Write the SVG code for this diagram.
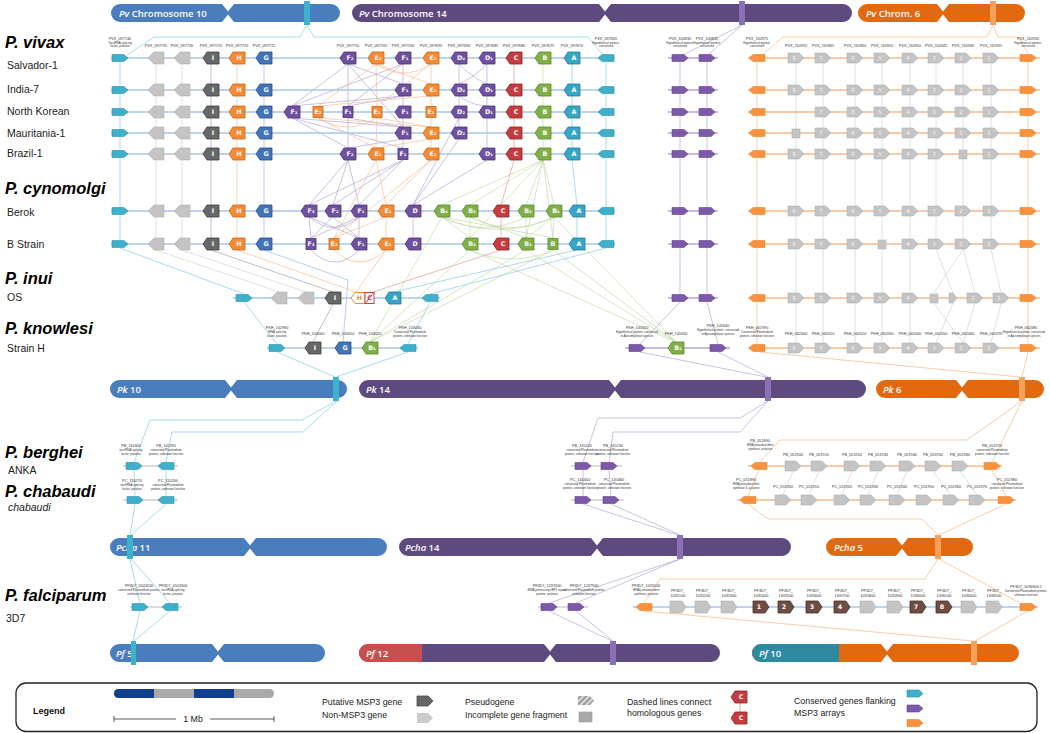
<svg xmlns="http://www.w3.org/2000/svg" width="1050" height="733" viewBox="0 0 1050 733">
<style>
.tl{fill:#3fb0cc;stroke:#2a92ad;stroke-width:.6}
.gy{fill:#c4c4c4;stroke:#b4b4b4;stroke-width:.6}
.ps{fill:#686868;stroke:#3e3e3e;stroke-width:.8}
.or{fill:#f48b34;stroke:#c8661b;stroke-width:.8}
.bl{fill:#4474b8;stroke:#2a4f8a;stroke-width:.8}
.pu{fill:#6f519f;stroke:#4b3277;stroke-width:.8}
.rd{fill:#c43c3d;stroke:#8e2425;stroke-width:.8}
.gr{fill:#82b048;stroke:#5a8a28;stroke-width:.8}
.ab{fill:#38a5c6;stroke:#217c9a;stroke-width:.8}
.fp{fill:#7d5aa9;stroke:#5f418b;stroke-width:.6}
.fo{fill:#f8923e;stroke:#ee8226;stroke-width:.6}
.br{fill:#6f4d42;stroke:#4b3129;stroke-width:.8}
.lt{font-family:"DejaVu Sans",sans-serif;font-size:6.3px;font-weight:bold;fill:#fff;text-anchor:middle}
.nm{font-family:"DejaVu Sans",sans-serif;font-size:5.5px;fill:#fff;text-anchor:middle;opacity:.8}
.id{font-family:"Liberation Sans",Arial,sans-serif;font-size:3.8px;fill:#333;text-anchor:middle}
.ds{font-family:"Liberation Sans",Arial,sans-serif;font-size:3px;fill:#333;text-anchor:middle}
.sp{font-family:"Liberation Sans",Arial,sans-serif;font-size:16.5px;font-weight:bold;font-style:italic;fill:#000}
.st{font-family:"Liberation Sans",Arial,sans-serif;font-size:10.5px;fill:#222}
.ch{font-family:"Open Sans","Liberation Sans",sans-serif;font-size:9.5px;font-weight:600;fill:#fff}
.lg{font-family:"Liberation Sans",Arial,sans-serif;font-size:8.8px;fill:#222}
.bb{stroke:#a8c4e6;stroke-width:1.3;fill:none}
.bp{stroke:#b4a5d4;stroke-width:1.3;fill:none}
.bo{stroke:#f9b98a;stroke-width:1.3;fill:none}
.bg{stroke:#cfcfcf;stroke-width:1.3;fill:none}
.ct{stroke:#93d3e3;stroke-width:.8;fill:none}
.cp{stroke:#a898cc;stroke-width:.6;fill:none}
.co{stroke:#f8c092;stroke-width:.8;fill:none}
.cg{stroke:#d8d8d8;stroke-width:.8;fill:none}
.cd{stroke:#a5a5a5;stroke-width:.7;fill:none}
.cb{stroke:#9cb7de;stroke-width:.7;fill:none}
.cr{stroke:#e59a9a;stroke-width:.7;fill:none}
.cn{stroke:#bcd59b;stroke-width:.6;fill:none}
.ce{stroke:#f7b684;stroke-width:.6;fill:none}
</style>
<defs>
<path id="mL" d="M-8,0 L-4,-6 L8,-6 L8,6 L-4,6 Z"/>
<path id="mR" d="M8,0 L4,-6 L-8,-6 L-8,6 L4,6 Z"/>
<path id="fR" d="M-8,-3.5 L4,-3.5 L8,0 L4,3.5 L-8,3.5 Z"/>
<path id="fL" d="M8,-3.5 L-4,-3.5 L-8,0 L-4,3.5 L8,3.5 Z"/>
<path id="gR" d="M-8,-5 L3,-5 L8,0 L3,5 L-8,5 Z"/>
<path id="gS" d="M-4,-5 L0,-5 L4,0 L0,5 L-4,5 Z"/>
<path id="gL" d="M8,-6 L-2,-6 L-8,0 L-2,6 L8,6 Z"/>
<rect id="sq" x="-5" y="-5.5" width="10" height="11"/>
<pattern id="hatch" patternUnits="userSpaceOnUse" width="4" height="4" patternTransform="rotate(45)">
<rect width="4" height="4" fill="#9a9a9a"/><rect width="1.6" height="4" fill="#e8e8e8"/>
</pattern>
</defs>
<rect width="1050" height="733" fill="#fff"/>

<g id="chromosomes">
<g id="pv-chr10"><path d="M120,4 H222 L228,11.5 L234,4 H331 A9,9 0 0 1 331,22 H234 L228,14.5 L222,22 H120 A9,9 0 0 1 120,4 Z" fill="#4a7dbd"/><rect x="304" y="1" width="6" height="24" fill="#3db3cb"/><text class="ch" x="119" y="16.5"><tspan font-style="italic">Pv</tspan> Chromosome 10</text></g>
<g id="pv-chr14"><path d="M361,4 H599 L605,11.5 L611,4 H843 A9,9 0 0 1 843,22 H611 L605,14.5 L599,22 H361 A9,9 0 0 1 361,4 Z" fill="#5f4a7f"/><rect x="739" y="1" width="6" height="24" fill="#8c70b6"/><text class="ch" x="359" y="16.5"><tspan font-style="italic">Pv</tspan> Chromosome 14</text></g>
<g id="pv-chr6"><path d="M867,4 H937 L943,11.5 L949,4 H1016 A9,9 0 0 1 1016,22 H949 L943,14.5 L937,22 H867 A9,9 0 0 1 867,4 Z" fill="#e2690f"/><rect x="990" y="1" width="6" height="24" fill="#f6a25c"/><text class="ch" x="866" y="16.5"><tspan font-style="italic">Pv</tspan> Chrom. 6</text></g>

<g id="pk-chr10"><path d="M119,380 H225 L231,387.5 L237,380 H338 A9,9 0 0 1 338,398 H237 L231,390.5 L225,398 H119 A9,9 0 0 1 119,380 Z" fill="#4a7dbd"/><rect x="333" y="377" width="6" height="24" fill="#3db3cb"/><text class="ch" x="117" y="392.5"><tspan font-style="italic">Pk</tspan> 10</text></g>
<g id="pk-chr14"><path d="M368,380 H609 L615,387.5 L621,380 H857 A9,9 0 0 1 857,398 H621 L615,390.5 L609,398 H368 A9,9 0 0 1 368,380 Z" fill="#5f4a7f"/><rect x="765" y="377" width="6" height="24" fill="#8c70b6"/><text class="ch" x="366" y="392.5"><tspan font-style="italic">Pk</tspan> 14</text></g>
<g id="pk-chr6"><path d="M885,380 H956 L962,387.5 L968,380 H1035 A9,9 0 0 1 1035,398 H968 L962,390.5 L956,398 H885 A9,9 0 0 1 885,380 Z" fill="#e2690f"/><rect x="1019" y="377" width="6" height="24" fill="#f6a25c"/><text class="ch" x="883" y="392.5"><tspan font-style="italic">Pk</tspan> 6</text></g>

<g id="pcha-chr11"><path d="M119,538 H244 L250,545.5 L256,538 H378 A9,9 0 0 1 378,556 H256 L250,548.5 L244,556 H119 A9,9 0 0 1 119,538 Z" fill="#4a7dbd"/><text class="ch" x="116" y="550.5"><tspan font-style="italic">Pcha</tspan> 11</text><rect x="127" y="535" width="6" height="24" fill="#3db3cb"/></g>
<g id="pcha-chr14"><path d="M408,538 H591 L597,545.5 L603,538 H782 A9,9 0 0 1 782,556 H603 L597,548.5 L591,556 H408 A9,9 0 0 1 408,538 Z" fill="#5f4a7f"/><rect x="677" y="535" width="6" height="24" fill="#8c70b6"/><text class="ch" x="405" y="550.5"><tspan font-style="italic">Pcha</tspan> 14</text></g>
<g id="pcha-chr5"><path d="M835,538 H896 L902,545.5 L908,538 H964 A9,9 0 0 1 964,556 H908 L902,548.5 L896,556 H835 A9,9 0 0 1 835,538 Z" fill="#e2690f"/><rect x="935" y="535" width="6" height="24" fill="#f6a25c"/><text class="ch" x="834" y="550.5"><tspan font-style="italic">Pcha</tspan> 5</text></g>

<g id="pf-chr5"><path d="M119,644 H212 L218,651.5 L224,644 H316 A9,9 0 0 1 316,662 H224 L218,654.5 L212,662 H119 A9,9 0 0 1 119,644 Z" fill="#4a7dbd"/><text class="ch" x="116" y="656.5" font-size="8.5"><tspan font-style="italic">Pf</tspan> 5</text><rect x="131" y="641" width="5" height="24" fill="#3db3cb"/></g>
<g id="pf-chr12"><path d="M368,644 H544 L550,651.5 L556,644 H711 A9,9 0 0 1 711,662 H556 L550,654.5 L544,662 H368 A9,9 0 0 1 368,644 Z" fill="#5f4a7f"/><path d="M368,644 H422 V662 H368 A9,9 0 0 1 368,644 Z" fill="#c7504f"/><rect x="610" y="641" width="6" height="24" fill="#8c70b6"/><text class="ch" x="366" y="656.5"><tspan font-style="italic">Pf</tspan> 12</text></g>
<g id="pf-chr10"><path d="M761,644 H881 L887,651.5 L893,644 H1010 A9,9 0 0 1 1010,662 H893 L887,654.5 L881,662 H761 A9,9 0 0 1 761,644 Z" fill="#e2690f"/><path d="M761,644 H839 V662 H761 A9,9 0 0 1 761,644 Z" fill="#2e8aa0"/><rect x="971" y="641" width="6" height="24" fill="#f6a25c"/><text class="ch" x="759" y="656.5"><tspan font-style="italic">Pf</tspan> 10</text></g>
</g>

<g id="connectors">
<path class="ct" d="M307,25 L300,37 H154 L127,55 M307,25 L314,37 H588 L603,55"/>
<path class="cp" d="M742,25 L683,55 M742,25 L708,55"/>
<path class="co" d="M993,25 L987,37 H783 L762,55 M993,25 L998,37 H1018 L1029,55"/>
<path class="ct" d="M120,62 V240 M606,62 V240 M572,64 V148 M572,160 L577,205 M577,217 V238 M577,250 L393,292 M606,248 L430,294 M120,248 L244,294 M244,302 L277,344 M430,302 L408,344 M277,352 L335,377 M408,352 L336,377"/>
<path class="ct" d="M336,401 L302,420 H150 L134,462 M337,401 L303,432 H172 L166,462 M134,470 L135,496 M166,470 V496 M135,504 L130,535 M166,504 L131,535 M130,559 L140,603 M131,559 L170,603 M140,611 L133,641 M170,611 L134,641"/>
<path class="cg" d="M156,64 V238 M182,64 V238 M156,250 L279,292 M182,250 L306,292"/>
<path class="cd" d="M211,64 V238 M211,250 L333,292 M333,304 L313,342"/>
<path class="ce" d="M237,64 V238 M237,250 L356,292"/>
<path class="cb" d="M264,64 V238 M264,250 L348,280 L343,342"/>
<path class="cp" d="M348,64 L292,106 M348,64 L348,106 M348,64 L403,84 M348,64 L403,127 M403,64 L348,106 M403,64 L292,106 M403,64 L403,84 M403,96 L403,106 M403,96 L348,106 M403,96 L292,106 M292,118 L403,127 M292,118 L348,148 M348,118 L348,148 M348,118 L403,127 M403,118 L403,127 M403,139 L403,148 M403,139 L348,148 M292,118 L403,148 M348,160 L309,205 M348,160 L333,205 M348,160 L359,205 M403,160 L309,205 M403,160 L333,205 M403,160 L359,205 M309,217 L311,238 M309,217 L359,238 M333,217 L311,238 M333,217 L359,238 M359,217 L311,238 M359,217 L359,238 M309,217 Q334,238 359,217 M311,250 Q335,274 359,250"/>
<path class="cp" d="M459,64 L459,84 M487,64 L487,84 M459,64 Q473,78 487,84 M487,64 Q473,78 459,84 M459,96 L459,106 M487,96 L487,106 M459,96 Q473,106 487,106 M459,118 L459,127 M487,118 L487,148 M459,139 L413,205 M487,160 L413,205 M459,118 L413,205 M413,217 L413,238"/>
<path class="ce" d="M376,64 L318,106 M376,64 L431,84 M376,64 L377,106 M431,64 L377,106 M431,64 L431,84 M431,96 L431,106 M431,96 L318,106 M318,118 L431,127 M377,118 L431,127 M431,118 L431,127 M318,118 L376,148 M377,118 L376,148 M431,139 L431,148 M431,139 L376,148 M376,160 L386,205 M431,160 L386,205 M376,160 L334,238 M431,160 L334,238 M386,217 L386,238 M386,217 L334,238 M376,64 Q404,82 431,64 M334,250 Q360,274 386,250 M318,118 Q348,136 377,118 M386,250 L356,292"/>
<path class="cr" d="M514,64 V148 M514,160 L501,205 M501,217 V238 M501,250 L370,293"/>
<path class="cn" d="M543,64 V148 M543,160 L442,205 M543,160 L470,205 M543,160 L526,205 M543,160 L554,205 M543,160 L470,238 M543,160 L526,238 M543,160 L553,238 M442,217 L470,238 M470,217 L470,238 M470,217 L526,238 M526,217 L526,238 M554,217 L553,238 M554,217 L526,238 M442,217 L553,238 M442,217 Q498,242 554,217 M470,217 Q512,238 554,217 M442,217 Q484,238 526,217 M470,250 Q512,268 553,250 M470,250 L370,342 M526,250 L370,342 M553,250 L370,342 M442,217 L370,342 M470,250 L676,342 M526,250 L676,342 M553,250 L676,342 M554,217 L676,342"/>
<path class="cp" d="M680,62 V294 M707,62 V294 M680,302 L640,344 M707,302 L718,344 M640,352 L766,377 M718,352 L768,377 M768,401 L740,418 H598 L583,462 M768,401 L740,432 H613 L609,462 M583,470 V496 M609,470 L611,496 M583,504 L678,535 M611,504 L680,535 M680,559 L549,603 M680,559 L576,603 M549,611 L612,641 M576,611 L613,641"/>
<path class="co" d="M757,62 V344 M1028,62 V344 M760,352 L1020,377 M1028,352 L1022,377 M1022,401 L967,440 H780 L760,462 M1022,401 L992,462 M759,470 L748,496 M992,470 L1006,496 M748,504 L768,519 H922 L938,535 M1006,504 L939,535 M938,559 L925,579 H660 L644,603 M939,559 L1020,603 M644,611 L973,641 M1028,611 L975,641"/>
<path class="cg" d="M796,63 V239 M823,63 V239 M855,63 V239 M882,63 V239 M910,63 V239 M936,63 V239 M963,63 V239 M991,63 V239 M796,249 V293 M823,249 V293 M855,249 V293 M882,249 V293 M910,249 V293 M936,249 L953,293 M963,249 L934,293 M963,249 L975,293 M991,249 L1001,293 M796,303 V343 M823,303 V343 M855,303 V343 M882,303 V343 M910,303 V343 M934,303 L963,343 M953,303 L936,343 M975,303 L963,343 M1001,303 L991,343"/>
<path class="cg" d="M793,471 L783,495 M819,471 L809,495 M852,471 L842,495 M878,471 L868,495 M907,471 L897,495 M933,471 L951,495 M960,471 L977,495"/>
</g>

<g id="species-labels">
<text class="sp" x="5" y="48">P. vivax</text>
<text class="st" x="7" y="69">Salvador-1</text>
<text class="st" x="7" y="93">India-7</text>
<text class="st" x="7" y="115">North Korean</text>
<text class="st" x="7" y="137">Mauritania-1</text>
<text class="st" x="7" y="157">Brazil-1</text>
<text class="sp" x="5" y="194">P. cynomolgi</text>
<text class="st" x="7" y="216">Berok</text>
<text class="st" x="7" y="248">B Strain</text>
<text class="sp" x="5" y="284">P. inui</text>
<text class="st" x="7" y="301">OS</text>
<text class="sp" x="5" y="334">P. knowlesi</text>
<text class="st" x="7" y="352">Strain H</text>
<text class="sp" x="5" y="458">P. berghei</text>
<text class="st" x="8" y="474" font-size="10">ANKA</text>
<text class="sp" x="5" y="497">P. chabaudi</text>
<text class="st" x="8" y="511" font-size="10" font-style="italic">chabaudi</text>
<text class="sp" x="5" y="601">P. falciparum</text>
<text class="st" x="6" y="622" font-size="10">3D7</text>
</g>

<g id="pv-gene-ids">
<text class="id" x="120" y="39.5">PVX_097740</text><text class="ds" x="120" y="43.5">Tas/tRNA-splicing</text><text class="ds" x="120" y="47">factor, putative</text>
<text class="id" x="156" y="47">PVX_097735</text><text class="id" x="182" y="47">PVX_097730</text><text class="id" x="211" y="47">PVX_097725</text><text class="id" x="237" y="47">PVX_097720</text><text class="id" x="264" y="47">PVX_097715</text>
<text class="id" x="348" y="47">PVX_097710</text><text class="id" x="376" y="47">PVX_097705</text><text class="id" x="403" y="47">PVX_097700</text><text class="id" x="431" y="47">PVX_097695</text><text class="id" x="459" y="47">PVX_097690</text><text class="id" x="487" y="47">PVX_097685</text><text class="id" x="514" y="47">PVX_097680</text><text class="id" x="543" y="47">PVX_097675</text><text class="id" x="572" y="47">PVX_097670</text>
<text class="id" x="606" y="39.5">PVX_097665</text><text class="ds" x="606" y="43.5">Hypothetical protein,</text><text class="ds" x="606" y="47">conserved</text>
<text class="id" x="680" y="39.5">PVX_100830</text><text class="ds" x="680" y="43.5">Hypothetical protein,</text><text class="ds" x="680" y="47">conserved</text>
<text class="id" x="707" y="39.5">PVX_100835</text><text class="ds" x="707" y="43.5">Hypothetical protein,</text><text class="ds" x="707" y="47">conserved</text>
<text class="id" x="757" y="39.5">PVX_110975</text><text class="ds" x="757" y="43.5">Hypothetical protein,</text><text class="ds" x="757" y="47">conserved</text>
<text class="id" x="796" y="47">PVX_110970</text><text class="id" x="823" y="47">PVX_110965</text><text class="id" x="855" y="47">PVX_110960</text><text class="id" x="882" y="47">PVX_110955</text><text class="id" x="910" y="47">PVX_110950</text><text class="id" x="936" y="47">PVX_110945</text><text class="id" x="963" y="47">PVX_110940</text><text class="id" x="991" y="47">PVX_110935</text>
<text class="id" x="1028" y="39.5">PVX_110930</text><text class="ds" x="1028" y="43.5">Hypothetical protein,</text><text class="ds" x="1028" y="47">conserved</text>
</g>

<g id="pv-salvador-1">
<path class="bb" d="M111,58 H615"/><path class="bp" d="M668,58 H718"/><path class="bo" d="M748,58 H1040"/>
<use href="#fR" x="120" y="58" class="tl"/><use href="#gL" x="156" y="58" class="gy"/><use href="#gL" x="182" y="58" class="gy"/>
<use href="#mL" x="211" y="58" class="ps"/><text class="lt" x="213" y="60.4">I</text>
<use href="#mL" x="237" y="58" class="or"/><text class="lt" x="239" y="60.4">H</text>
<use href="#mL" x="264" y="58" class="bl"/><text class="lt" x="266" y="60.4">G</text>
<use href="#mL" x="348" y="58" class="pu"/><text class="lt" x="350" y="60.4">F₂</text>
<use href="#mL" x="376" y="58" class="or"/><text class="lt" x="378" y="60.4">E₂</text>
<use href="#mL" x="403" y="58" class="pu"/><text class="lt" x="405" y="60.4">F₁</text>
<use href="#mL" x="431" y="58" class="or"/><text class="lt" x="433" y="60.4">E₁</text>
<use href="#mL" x="459" y="58" class="pu"/><text class="lt" x="461" y="60.4">D₂</text>
<use href="#mL" x="487" y="58" class="pu"/><text class="lt" x="489" y="60.4">D₁</text>
<use href="#mL" x="514" y="58" class="rd"/><text class="lt" x="516" y="60.4">C</text>
<use href="#mL" x="543" y="58" class="gr"/><text class="lt" x="545" y="60.4">B</text>
<use href="#mL" x="572" y="58" class="ab"/><text class="lt" x="574" y="60.4">A</text>
<use href="#fL" x="606" y="58" class="tl"/>
<use href="#fR" x="680" y="58" class="fp"/><use href="#fR" x="707" y="58" class="fp"/>
<use href="#fL" x="757" y="58" class="fo"/>
<use href="#gR" x="796" y="58" class="gy"/><text class="nm" x="794" y="60">8</text>
<use href="#gR" x="823" y="58" class="gy"/><text class="nm" x="821" y="60">7</text>
<use href="#gR" x="855" y="58" class="gy"/><text class="nm" x="853" y="60">6</text>
<use href="#gR" x="882" y="58" class="gy"/><text class="nm" x="880" y="60">5</text>
<use href="#gR" x="910" y="58" class="gy"/><text class="nm" x="908" y="60">4</text>
<use href="#gR" x="936" y="58" class="gy"/><text class="nm" x="934" y="60">3</text>
<use href="#gR" x="963" y="58" class="gy"/><text class="nm" x="961" y="60">2</text>
<use href="#gR" x="991" y="58" class="gy"/><text class="nm" x="989" y="60">1</text>
<use href="#fR" x="1028" y="58" class="fo"/>
</g>

<g id="pv-india-7">
<path class="bb" d="M111,90 H615"/><path class="bp" d="M668,90 H718"/><path class="bo" d="M748,90 H1040"/>
<use href="#fR" x="120" y="90" class="tl"/><use href="#gL" x="156" y="90" class="gy"/><use href="#gL" x="182" y="90" class="gy"/>
<use href="#mL" x="211" y="90" class="ps"/><text class="lt" x="213" y="92.4">I</text>
<use href="#mL" x="237" y="90" class="or"/><text class="lt" x="239" y="92.4">H</text>
<use href="#mL" x="264" y="90" class="bl"/><text class="lt" x="266" y="92.4">G</text>
<use href="#mL" x="403" y="90" class="pu"/><text class="lt" x="405" y="92.4">F₁</text>
<use href="#mL" x="431" y="90" class="or"/><text class="lt" x="433" y="92.4">E₁</text>
<use href="#mL" x="459" y="90" class="pu"/><text class="lt" x="461" y="92.4">D₂</text>
<use href="#mL" x="487" y="90" class="pu"/><text class="lt" x="489" y="92.4">D₁</text>
<use href="#mL" x="514" y="90" class="rd"/><text class="lt" x="516" y="92.4">C</text>
<use href="#mL" x="543" y="90" class="gr"/><text class="lt" x="545" y="92.4">B</text>
<use href="#mL" x="572" y="90" class="ab"/><text class="lt" x="574" y="92.4">A</text>
<use href="#fL" x="606" y="90" class="tl"/>
<use href="#fR" x="680" y="90" class="fp"/><use href="#fR" x="707" y="90" class="fp"/>
<use href="#fL" x="757" y="90" class="fo"/>
<use href="#gR" x="796" y="90" class="gy"/><text class="nm" x="794" y="92">8</text>
<use href="#gR" x="823" y="90" class="gy"/><text class="nm" x="821" y="92">7</text>
<use href="#gR" x="855" y="90" class="gy"/><text class="nm" x="853" y="92">6</text>
<use href="#gR" x="882" y="90" class="gy"/><text class="nm" x="880" y="92">5</text>
<use href="#gR" x="910" y="90" class="gy"/><text class="nm" x="908" y="92">4</text>
<use href="#gR" x="936" y="90" class="gy"/><text class="nm" x="934" y="92">3</text>
<use href="#gR" x="963" y="90" class="gy"/><text class="nm" x="961" y="92">2</text>
<use href="#gR" x="991" y="90" class="gy"/><text class="nm" x="989" y="92">1</text>
<use href="#fR" x="1028" y="90" class="fo"/>
</g>

<g id="pv-north-korean">
<path class="bb" d="M111,112 H615"/><path class="bp" d="M668,112 H718"/><path class="bo" d="M748,112 H1040"/>
<use href="#fR" x="120" y="112" class="tl"/><use href="#gL" x="156" y="112" class="gy"/><use href="#gL" x="182" y="112" class="gy"/>
<use href="#mL" x="211" y="112" class="ps"/><text class="lt" x="213" y="114.4">I</text>
<use href="#mL" x="237" y="112" class="or"/><text class="lt" x="239" y="114.4">H</text>
<use href="#mL" x="264" y="112" class="bl"/><text class="lt" x="266" y="114.4">G</text>
<use href="#mL" x="292" y="112" class="pu"/><text class="lt" x="294" y="114.4">F₂</text>
<use href="#sq" x="318" y="112" class="or"/><text class="lt" x="318" y="114.4">E₂</text>
<use href="#sq" x="348" y="112" class="pu"/><text class="lt" x="348" y="114.4">F₁</text>
<use href="#sq" x="377" y="112" class="or"/><text class="lt" x="377" y="114.4">E₁</text>
<use href="#mL" x="403" y="112" class="pu"/><text class="lt" x="405" y="114.4">F₁</text>
<use href="#sq" x="431" y="112" class="or"/><text class="lt" x="431" y="114.4">E₁</text>
<use href="#mL" x="459" y="112" class="pu"/><text class="lt" x="461" y="114.4">D₂</text>
<use href="#mL" x="487" y="112" class="pu"/><text class="lt" x="489" y="114.4">D₁</text>
<use href="#mL" x="514" y="112" class="rd"/><text class="lt" x="516" y="114.4">C</text>
<use href="#mL" x="543" y="112" class="gr"/><text class="lt" x="545" y="114.4">B</text>
<use href="#mL" x="572" y="112" class="ab"/><text class="lt" x="574" y="114.4">A</text>
<use href="#fL" x="606" y="112" class="tl"/>
<use href="#fR" x="680" y="112" class="fp"/><use href="#fR" x="707" y="112" class="fp"/>
<use href="#fL" x="757" y="112" class="fo"/>
<use href="#gR" x="823" y="112" class="gy"/><text class="nm" x="821" y="114">7</text>
<use href="#gR" x="855" y="112" class="gy"/><text class="nm" x="853" y="114">6</text>
<use href="#gR" x="882" y="112" class="gy"/><text class="nm" x="880" y="114">5</text>
<use href="#gR" x="910" y="112" class="gy"/><text class="nm" x="908" y="114">4</text>
<use href="#gR" x="936" y="112" class="gy"/><text class="nm" x="934" y="114">3</text>
<use href="#gR" x="963" y="112" class="gy"/><text class="nm" x="961" y="114">2</text>
<use href="#gR" x="991" y="112" class="gy"/><text class="nm" x="989" y="114">1</text>
<use href="#fR" x="1028" y="112" class="fo"/>
</g>

<g id="pv-mauritania-1">
<path class="bb" d="M111,133 H615"/><path class="bp" d="M668,133 H718"/><path class="bo" d="M748,133 H1040"/>
<use href="#fR" x="120" y="133" class="tl"/><use href="#gL" x="156" y="133" class="gy"/><use href="#gL" x="182" y="133" class="gy"/>
<use href="#mL" x="211" y="133" class="ps"/><text class="lt" x="213" y="135.4">I</text>
<use href="#mL" x="237" y="133" class="or"/><text class="lt" x="239" y="135.4">H</text>
<use href="#mL" x="264" y="133" class="bl"/><text class="lt" x="266" y="135.4">G</text>
<use href="#mL" x="403" y="133" class="pu"/><text class="lt" x="405" y="135.4">F₁</text>
<use href="#mL" x="431" y="133" class="or"/><text class="lt" x="433" y="135.4">E₁</text>
<use href="#mL" x="459" y="133" class="pu"/><text class="lt" x="461" y="135.4">D₂</text>
<use href="#mL" x="514" y="133" class="rd"/><text class="lt" x="516" y="135.4">C</text>
<use href="#mL" x="543" y="133" class="gr"/><text class="lt" x="545" y="135.4">B</text>
<use href="#mL" x="572" y="133" class="ab"/><text class="lt" x="574" y="135.4">A</text>
<use href="#fL" x="606" y="133" class="tl"/>
<use href="#fR" x="680" y="133" class="fp"/><use href="#fR" x="707" y="133" class="fp"/>
<use href="#fL" x="757" y="133" class="fo"/>
<rect x="792" y="129" width="8" height="9" class="gy"/>
<use href="#gR" x="823" y="133" class="gy"/><text class="nm" x="821" y="135">7</text>
<use href="#gR" x="855" y="133" class="gy"/><text class="nm" x="853" y="135">6</text>
<use href="#gR" x="882" y="133" class="gy"/><text class="nm" x="880" y="135">5</text>
<use href="#gR" x="910" y="133" class="gy"/><text class="nm" x="908" y="135">4</text>
<use href="#gR" x="936" y="133" class="gy"/><text class="nm" x="934" y="135">3</text>
<use href="#gR" x="963" y="133" class="gy"/><text class="nm" x="961" y="135">2</text>
<use href="#gR" x="991" y="133" class="gy"/><text class="nm" x="989" y="135">1</text>
<use href="#fR" x="1028" y="133" class="fo"/>
</g>

<g id="pv-brazil-1">
<path class="bb" d="M111,154 H615"/><path class="bp" d="M668,154 H718"/><path class="bo" d="M748,154 H1040"/>
<use href="#fR" x="120" y="154" class="tl"/><use href="#gL" x="156" y="154" class="gy"/><use href="#gL" x="182" y="154" class="gy"/>
<use href="#mL" x="211" y="154" class="ps"/><text class="lt" x="213" y="156.4">I</text>
<use href="#mL" x="237" y="154" class="or"/><text class="lt" x="239" y="156.4">H</text>
<use href="#mL" x="264" y="154" class="bl"/><text class="lt" x="266" y="156.4">G</text>
<use href="#mL" x="348" y="154" class="pu"/><text class="lt" x="350" y="156.4">F₂</text>
<use href="#mL" x="376" y="154" class="or"/><text class="lt" x="378" y="156.4">E₁</text>
<use href="#sq" x="403" y="154" class="pu"/><text class="lt" x="403" y="156.4">F₁</text>
<use href="#mL" x="431" y="154" class="or"/><text class="lt" x="433" y="156.4">E₁</text>
<use href="#mL" x="487" y="154" class="pu"/><text class="lt" x="489" y="156.4">D₁</text>
<use href="#mL" x="514" y="154" class="rd"/><text class="lt" x="516" y="156.4">C</text>
<use href="#mL" x="543" y="154" class="gr"/><text class="lt" x="545" y="156.4">B</text>
<use href="#mL" x="572" y="154" class="ab"/><text class="lt" x="574" y="156.4">A</text>
<use href="#fL" x="606" y="154" class="tl"/>
<use href="#fR" x="680" y="154" class="fp"/><use href="#fR" x="707" y="154" class="fp"/>
<use href="#fL" x="757" y="154" class="fo"/>
<use href="#gR" x="796" y="154" class="gy"/><text class="nm" x="794" y="156">8</text>
<use href="#gR" x="823" y="154" class="gy"/><text class="nm" x="821" y="156">7</text>
<use href="#gR" x="855" y="154" class="gy"/><text class="nm" x="853" y="156">6</text>
<use href="#gR" x="882" y="154" class="gy"/><text class="nm" x="880" y="156">5</text>
<use href="#gR" x="910" y="154" class="gy"/><text class="nm" x="908" y="156">4</text>
<use href="#gR" x="936" y="154" class="gy"/><text class="nm" x="934" y="156">3</text>
<rect x="959" y="150" width="8" height="9" class="gy"/>
<use href="#gR" x="991" y="154" class="gy"/><text class="nm" x="989" y="156">1</text>
<use href="#fR" x="1028" y="154" class="fo"/>
</g>

<g id="pc-berok">
<path class="bb" d="M111,211 H615"/><path class="bp" d="M668,211 H718"/><path class="bo" d="M748,211 H1040"/>
<use href="#fR" x="120" y="211" class="tl"/><use href="#gL" x="156" y="211" class="gy"/><use href="#gL" x="182" y="211" class="gy"/>
<use href="#mL" x="211" y="211" class="ps"/><text class="lt" x="213" y="213.4">I</text>
<use href="#mL" x="237" y="211" class="or"/><text class="lt" x="239" y="213.4">H</text>
<use href="#mL" x="264" y="211" class="bl"/><text class="lt" x="266" y="213.4">G</text>
<use href="#mL" x="309" y="211" class="pu"/><text class="lt" x="311" y="213.4">F₃</text>
<use href="#mL" x="333" y="211" class="pu"/><text class="lt" x="335" y="213.4">F₂</text>
<use href="#mL" x="359" y="211" class="pu"/><text class="lt" x="361" y="213.4">F₁</text>
<use href="#mL" x="386" y="211" class="or"/><text class="lt" x="388" y="213.4">E₁</text>
<use href="#mL" x="413" y="211" class="pu"/><text class="lt" x="415" y="213.4">D</text>
<use href="#mL" x="442" y="211" class="gr"/><text class="lt" x="444" y="213.4">B₄</text>
<use href="#mL" x="470" y="211" class="gr"/><text class="lt" x="472" y="213.4">B₃</text>
<use href="#mL" x="501" y="211" class="rd"/><text class="lt" x="503" y="213.4">C</text>
<use href="#mL" x="526" y="211" class="gr"/><text class="lt" x="528" y="213.4">B₂</text>
<use href="#mL" x="554" y="211" class="gr"/><text class="lt" x="556" y="213.4">B₁</text>
<use href="#mL" x="577" y="211" class="ab"/><text class="lt" x="579" y="213.4">A</text>
<use href="#fL" x="606" y="211" class="tl"/>
<use href="#fR" x="680" y="211" class="fp"/><use href="#fR" x="707" y="211" class="fp"/>
<use href="#fL" x="757" y="211" class="fo"/>
<use href="#gR" x="796" y="211" class="gy"/><text class="nm" x="794" y="213">8</text>
<use href="#gR" x="823" y="211" class="gy"/><text class="nm" x="821" y="213">7</text>
<use href="#gR" x="855" y="211" class="gy"/><text class="nm" x="853" y="213">6</text>
<use href="#gR" x="882" y="211" class="gy"/><text class="nm" x="880" y="213">5</text>
<use href="#gR" x="910" y="211" class="gy"/><text class="nm" x="908" y="213">4</text>
<use href="#gR" x="936" y="211" class="gy"/><text class="nm" x="934" y="213">3</text>
<use href="#gR" x="963" y="211" class="gy"/><text class="nm" x="961" y="213">2</text>
<use href="#gR" x="991" y="211" class="gy"/><text class="nm" x="989" y="213">1</text>
<use href="#fR" x="1028" y="211" class="fo"/>
</g>

<g id="pc-b-strain">
<path class="bb" d="M111,244 H615"/><path class="bp" d="M668,244 H718"/><path class="bo" d="M748,244 H1040"/>
<use href="#fR" x="120" y="244" class="tl"/><use href="#gL" x="156" y="244" class="gy"/><use href="#gL" x="182" y="244" class="gy"/>
<use href="#mL" x="211" y="244" class="ps"/><text class="lt" x="213" y="246.4">I</text>
<use href="#mL" x="237" y="244" class="or"/><text class="lt" x="239" y="246.4">H</text>
<use href="#mL" x="264" y="244" class="bl"/><text class="lt" x="266" y="246.4">G</text>
<use href="#sq" x="311" y="244" class="pu"/><text class="lt" x="311" y="246.4">F₃</text>
<use href="#sq" x="334" y="244" class="or"/><text class="lt" x="334" y="246.4">E₂</text>
<use href="#mL" x="359" y="244" class="pu"/><text class="lt" x="361" y="246.4">F₁</text>
<use href="#mL" x="386" y="244" class="or"/><text class="lt" x="388" y="246.4">E₁</text>
<use href="#mL" x="413" y="244" class="pu"/><text class="lt" x="415" y="246.4">D</text>
<use href="#mL" x="470" y="244" class="gr"/><text class="lt" x="472" y="246.4">B₃</text>
<use href="#mL" x="501" y="244" class="rd"/><text class="lt" x="503" y="246.4">C</text>
<use href="#mL" x="526" y="244" class="gr"/><text class="lt" x="528" y="246.4">B₁</text>
<use href="#sq" x="553" y="244" class="gr"/><text class="lt" x="553" y="246.4">B</text>
<use href="#mL" x="577" y="244" class="ab"/><text class="lt" x="579" y="246.4">A</text>
<use href="#fL" x="606" y="244" class="tl"/>
<use href="#fR" x="680" y="244" class="fp"/><use href="#fR" x="707" y="244" class="fp"/>
<use href="#fL" x="757" y="244" class="fo"/>
<use href="#gR" x="796" y="244" class="gy"/><text class="nm" x="794" y="246">8</text>
<use href="#gR" x="823" y="244" class="gy"/><text class="nm" x="821" y="246">7</text>
<use href="#gR" x="855" y="244" class="gy"/><text class="nm" x="853" y="246">6</text>
<rect x="878" y="240" width="8" height="9" class="gy"/>
<use href="#gR" x="910" y="244" class="gy"/><text class="nm" x="908" y="246">4</text>
<use href="#gR" x="936" y="244" class="gy"/><text class="nm" x="934" y="246">3</text>
<use href="#gR" x="963" y="244" class="gy"/><text class="nm" x="961" y="246">2</text>
<use href="#gR" x="991" y="244" class="gy"/><text class="nm" x="989" y="246">1</text>
<use href="#fR" x="1028" y="244" class="fo"/>
</g>

<g id="pi-os">
<path class="bb" d="M233,298 H440"/><path class="bp" d="M668,298 H718"/><path class="bo" d="M748,298 H1040"/>
<use href="#fR" x="244" y="298" class="tl"/><use href="#gL" x="279" y="298" class="gy"/><use href="#gL" x="306" y="298" class="gy"/>
<use href="#mL" x="333" y="298" class="ps"/><text class="lt" x="335" y="300.4">I</text>
<path d="M351,298 L355,292.5 L365,292.5 L365,303.5 L355,303.5 Z" fill="#fff" stroke="#f08a30" stroke-width="1"/>
<text class="lt" x="359.5" y="300.4" style="fill:#f08a30">H</text>
<rect x="365" y="292.5" width="9" height="11" fill="#fff" stroke="#c43c3d" stroke-width="1"/>
<text class="lt" x="369.5" y="300.4" style="fill:#c43c3d">C</text>
<line x1="366" y1="302.5" x2="373" y2="293.5" stroke="#c43c3d" stroke-width="1"/>
<use href="#mL" x="393" y="298" class="ab"/><text class="lt" x="395" y="300.4">A</text>
<use href="#fL" x="430" y="298" class="tl"/>
<use href="#fR" x="680" y="298" class="fp"/><use href="#fR" x="707" y="298" class="fp"/>
<use href="#fL" x="757" y="298" class="fo"/>
<use href="#gR" x="796" y="298" class="gy"/><text class="nm" x="794" y="300">8</text>
<use href="#gR" x="823" y="298" class="gy"/><text class="nm" x="821" y="300">7</text>
<use href="#gR" x="855" y="298" class="gy"/><text class="nm" x="853" y="300">6</text>
<use href="#gR" x="882" y="298" class="gy"/><text class="nm" x="880" y="300">5</text>
<use href="#gR" x="910" y="298" class="gy"/><text class="nm" x="908" y="300">4</text>
<rect x="930" y="294" width="8" height="9" class="gy"/>
<use href="#gS" x="953" y="298" class="gy"/>
<use href="#gR" x="975" y="298" class="gy"/><text class="nm" x="973" y="300">2</text>
<use href="#gR" x="1001" y="298" class="gy"/><text class="nm" x="999" y="300">1</text>
<use href="#fR" x="1028" y="298" class="fo"/>
</g>

<g id="pk-strain-h">
<path class="bb" d="M267,348 H418"/><path class="bp" d="M625,348 H730"/><path class="bo" d="M748,348 H1040"/>
<text class="id" x="277" y="329">PKH_102990</text><text class="ds" x="277" y="333">tRNA-splicing</text><text class="ds" x="277" y="336.5">factor, putative</text>
<text class="id" x="313" y="335">PKH_103000</text><text class="id" x="343" y="335">PKH_103010</text><text class="id" x="370" y="335">PKH_103020</text>
<text class="id" x="410" y="329">PKH_103030</text><text class="ds" x="410" y="333">Conserved Plasmodium</text><text class="ds" x="410" y="336.5">protein, unknown function</text>
<text class="id" x="637" y="329">PKH_145620</text><text class="ds" x="637" y="333">Hypothetical protein, conserved</text><text class="ds" x="637" y="336.5">in Apicomplexan species</text>
<text class="id" x="676" y="335">PKH_145630</text>
<text class="id" x="718" y="327">PKH_145640</text><text class="ds" x="718" y="331">Hypothetical protein, conserved</text><text class="ds" x="718" y="334.5">in Apicomplexan species</text>
<text class="id" x="757" y="329">PKH_061990</text><text class="ds" x="757" y="333">Conserved Plasmodium</text><text class="ds" x="757" y="336.5">protein, unknown function</text>
<text class="id" x="796" y="335">PKH_062000</text><text class="id" x="823" y="335">PKH_062010</text><text class="id" x="855" y="335">PKH_062020</text><text class="id" x="882" y="335">PKH_062030</text><text class="id" x="910" y="335">PKH_062040</text><text class="id" x="936" y="335">PKH_062050</text><text class="id" x="963" y="335">PKH_062060</text><text class="id" x="991" y="335">PKH_062070</text>
<text class="id" x="1026" y="329">PKH_062080</text><text class="ds" x="1024" y="333">Hypothetical protein, conserved</text><text class="ds" x="1024" y="336.5">in Apicomplexan species</text>
<use href="#fR" x="277" y="348" class="tl"/>
<use href="#mL" x="313" y="348" class="ps"/><text class="lt" x="315" y="350.4">I</text>
<use href="#mL" x="343" y="348" class="bl"/><text class="lt" x="345" y="350.4">G</text>
<use href="#mL" x="370" y="348" class="gr"/><text class="lt" x="372" y="350.4">B₁</text>
<use href="#fL" x="408" y="348" class="tl"/>
<use href="#fR" x="637" y="348" class="fp"/>
<use href="#mL" x="676" y="348" class="gr"/><text class="lt" x="678" y="350.4">B₁</text>
<use href="#fR" x="718" y="348" class="fp"/>
<use href="#fL" x="757" y="348" class="fo"/>
<use href="#gR" x="796" y="348" class="gy"/><text class="nm" x="794" y="350">8</text>
<use href="#gR" x="823" y="348" class="gy"/><text class="nm" x="821" y="350">7</text>
<use href="#gR" x="855" y="348" class="gy"/><text class="nm" x="853" y="350">6</text>
<use href="#gR" x="882" y="348" class="gy"/><text class="nm" x="880" y="350">5</text>
<use href="#gR" x="910" y="348" class="gy"/><text class="nm" x="908" y="350">4</text>
<use href="#gR" x="936" y="348" class="gy"/><text class="nm" x="934" y="350">3</text>
<use href="#gR" x="963" y="348" class="gy"/><text class="nm" x="961" y="350">2</text>
<use href="#gR" x="991" y="348" class="gy"/><text class="nm" x="989" y="350">1</text>
<use href="#fR" x="1028" y="348" class="fo"/>
</g>

<g id="pb-anka">
<path class="bg" d="M123,466 H178"/><path class="bg" d="M571,466 H622"/><path class="bo" d="M748,466 H1002"/>
<text class="id" x="131" y="447">PB_110300</text><text class="ds" x="131" y="451">tas/tRNA-splicing</text><text class="ds" x="131" y="454.5">factor, putative</text>
<text class="id" x="166" y="447">PB_110290</text><text class="ds" x="166" y="451">conserved Plasmodium</text><text class="ds" x="166" y="454.5">protein, unknown function</text>
<text class="id" x="582" y="447">PB_145220</text><text class="ds" x="582" y="451">conserved Plasmodium</text><text class="ds" x="582" y="454.5">protein, unknown function</text>
<text class="id" x="613" y="447">PB_145230</text><text class="ds" x="613" y="451">conserved Plasmodium</text><text class="ds" x="613" y="454.5">protein, unknown function</text>
<text class="id" x="760" y="442">PB_051890</text><text class="ds" x="760" y="446">tRNA pseudouridine</text><text class="ds" x="760" y="449.5">synthase, putative</text>
<text class="id" x="793" y="456">PB_051900</text><text class="id" x="819" y="456">PB_051910</text><text class="id" x="852" y="456">PB_051920</text><text class="id" x="878" y="456">PB_051930</text><text class="id" x="907" y="456">PB_051940</text><text class="id" x="933" y="456">PB_051950</text><text class="id" x="960" y="456">PB_051960</text>
<text class="id" x="992" y="447">PB_051970</text><text class="ds" x="992" y="451">conserved Plasmodium</text><text class="ds" x="992" y="454.5">protein, unknown function</text>
<use href="#fR" x="134" y="466" class="tl"/><use href="#fL" x="166" y="466" class="tl"/>
<use href="#fR" x="583" y="466" class="fp"/><use href="#fR" x="609" y="466" class="fp"/>
<use href="#fL" x="759" y="466" class="fo"/>
<use href="#gR" x="793" y="466" class="gy"/><use href="#gR" x="819" y="466" class="gy"/><use href="#gR" x="852" y="466" class="gy"/><use href="#gR" x="878" y="466" class="gy"/><use href="#gR" x="907" y="466" class="gy"/><use href="#gR" x="933" y="466" class="gy"/><use href="#gR" x="960" y="466" class="gy"/>
<use href="#fR" x="992" y="466" class="fo"/>
</g>

<g id="pch-chabaudi">
<path class="bg" d="M123,500 H178"/><path class="bg" d="M571,500 H624"/><path class="bo" d="M737,500 H1016"/>
<text class="id" x="132" y="482">PC_110270</text><text class="ds" x="132" y="486">tas/tRNA-splicing</text><text class="ds" x="132" y="489.5">factor, putative</text>
<text class="id" x="168" y="482">PC_110260</text><text class="ds" x="168" y="486">conserved Plasmodium</text><text class="ds" x="168" y="489.5">protein, unknown function</text>
<text class="id" x="580" y="481">PC_145450</text><text class="ds" x="580" y="485">conserved Plasmodium</text><text class="ds" x="580" y="488.5">protein, unknown function</text>
<text class="id" x="614" y="481">PC_145460</text><text class="ds" x="614" y="485">conserved Plasmodium</text><text class="ds" x="614" y="488.5">protein, unknown function</text>
<text class="id" x="746" y="481">PC_051890</text><text class="ds" x="746" y="485">tRNA pseudouridine</text><text class="ds" x="746" y="488.5">synthase 3, putative</text>
<text class="id" x="783" y="488">PC_051900</text><text class="id" x="809" y="488">PC_051910</text><text class="id" x="842" y="488">PC_051920</text><text class="id" x="868" y="488">PC_051930</text><text class="id" x="897" y="488">PC_051940</text><text class="id" x="924" y="488">PC_051950</text><text class="id" x="951" y="488">PC_051960</text><text class="id" x="977" y="488">PC_051970</text>
<text class="id" x="1007" y="481">PC_051980</text><text class="ds" x="1007" y="485">conserved Plasmodium</text><text class="ds" x="1007" y="488.5">protein, unknown function</text>
<use href="#fR" x="135" y="500" class="tl"/><use href="#fL" x="166" y="500" class="tl"/>
<use href="#fR" x="583" y="500" class="fp"/><use href="#fR" x="611" y="500" class="fp"/>
<use href="#fL" x="748" y="500" class="fo"/>
<use href="#gR" x="783" y="500" class="gy"/><use href="#gR" x="809" y="500" class="gy"/><use href="#gR" x="842" y="500" class="gy"/><use href="#gR" x="868" y="500" class="gy"/><use href="#gR" x="897" y="500" class="gy"/><use href="#gR" x="924" y="500" class="gy"/><use href="#gR" x="951" y="500" class="gy"/><use href="#gR" x="977" y="500" class="gy"/>
<use href="#fR" x="1006" y="500" class="fo"/>
</g>

<g id="pf-3d7">
<path class="bg" d="M130,607 H182"/><path class="bg" d="M538,607 H588"/><path class="bb" d="M633,607 H1038"/>
<text class="id" x="139" y="587">PF3D7_0503200</text><text class="ds" x="139" y="591">conserved Plasmodium protein,</text><text class="ds" x="139" y="594.5">unknown function</text>
<text class="id" x="173" y="587">PF3D7_0503300</text><text class="ds" x="173" y="591">tas/tRNA-splicing</text><text class="ds" x="173" y="594.5">factor, putative</text>
<text class="id" x="547" y="587">PF3D7_1237000</text><text class="ds" x="547" y="591">tRNA processing tRP1 repeat</text><text class="ds" x="547" y="594.5">protein, putative</text>
<text class="id" x="584" y="587">PF3D7_1237900</text><text class="ds" x="584" y="591">conserved Plasmodium protein,</text><text class="ds" x="584" y="594.5">unknown function</text>
<text class="id" x="646" y="587">PF3D7_1035000</text><text class="ds" x="646" y="591">tRNA pseudouridine</text><text class="ds" x="646" y="594.5">synthase, putative</text>
<text class="id" x="678" y="592">PF3D7_</text><text class="id" x="678" y="597">1035100</text>
<text class="id" x="703" y="592">PF3D7_</text><text class="id" x="703" y="597">1035200</text>
<text class="id" x="729" y="592">PF3D7_</text><text class="id" x="729" y="597">1035300</text>
<text class="id" x="761" y="592">PF3D7_</text><text class="id" x="761" y="597">1035400</text>
<text class="id" x="786" y="592">PF3D7_</text><text class="id" x="786" y="597">1035500</text>
<text class="id" x="814" y="592">PF3D7_</text><text class="id" x="814" y="597">1035600</text>
<text class="id" x="842" y="592">PF3D7_</text><text class="id" x="842" y="597">1035700</text>
<text class="id" x="868" y="592">PF3D7_</text><text class="id" x="868" y="597">1035800</text>
<text class="id" x="895" y="592">PF3D7_</text><text class="id" x="895" y="597">1035900</text>
<text class="id" x="918" y="592">PF3D7_</text><text class="id" x="918" y="597">1036000</text>
<text class="id" x="944" y="592">PF3D7_</text><text class="id" x="944" y="597">1036100</text>
<text class="id" x="969" y="592">PF3D7_</text><text class="id" x="969" y="597">1036400</text>
<text class="id" x="994" y="592">PF3D7_</text><text class="id" x="994" y="597">1036500</text>
<text class="id" x="1026" y="588">PF3D7_1036600.1</text><text class="ds" x="1026" y="592">Conserved Plasmodium protein,</text><text class="ds" x="1026" y="595.5">unknown function</text>
<use href="#fR" x="140" y="607" class="tl"/><use href="#fL" x="170" y="607" class="tl"/>
<use href="#fR" x="549" y="607" class="fp"/><use href="#fR" x="576" y="607" class="fp"/>
<use href="#fL" x="644" y="607" class="fo"/>
<use href="#mR" x="678" y="607" class="gy"/><use href="#mR" x="703" y="607" class="gy"/><use href="#mR" x="729" y="607" class="gy"/>
<use href="#mR" x="761" y="607" class="br"/><text class="lt" x="759" y="609.4">1</text>
<use href="#mR" x="786" y="607" class="br"/><text class="lt" x="784" y="609.4">2</text>
<use href="#mR" x="814" y="607" class="br"/><text class="lt" x="812" y="609.4">3</text>
<use href="#mR" x="842" y="607" class="br"/><text class="lt" x="840" y="609.4">4</text>
<use href="#mR" x="868" y="607" class="gy"/><use href="#mR" x="895" y="607" class="gy"/>
<use href="#mR" x="918" y="607" class="br"/><text class="lt" x="916" y="609.4">7</text>
<use href="#mR" x="944" y="607" class="br"/><text class="lt" x="942" y="609.4">8</text>
<use href="#mR" x="969" y="607" class="gy"/><use href="#mR" x="994" y="607" class="gy"/>
<use href="#fR" x="1028" y="607" class="fo"/>
</g>

<g id="legend">
<rect x="16" y="683" width="1021" height="48.5" rx="10" fill="none" stroke="#222" stroke-width="1.3"/>
<text x="33" y="714" font-family="Liberation Sans, Arial, sans-serif" font-size="9" font-weight="bold" fill="#111">Legend</text>
<rect x="114" y="689" width="160" height="9" rx="4.5" fill="#a9a9a9"/>
<path d="M118.5,689 H154 V698 H118.5 A4.5,4.5 0 0 1 118.5,689 Z" fill="#123f8c"/>
<rect x="194" y="689" width="40" height="9" fill="#123f8c"/>
<path d="M114,716 V722 M114,719 H176 M210,719 H274 M274,716 V722" stroke="#333" stroke-width=".8" fill="none"/>
<text class="lg" x="193" y="722" text-anchor="middle">1 Mb</text>
<text class="lg" x="322" y="705">Putative MSP3 gene</text>
<text class="lg" x="322" y="718">Non-MSP3 gene</text>
<path d="M417,696 H428 L433,701 L428,706 H417 Z" fill="#666" stroke="#4a4a4a" stroke-width=".8"/>
<path d="M417,713 H428 L433,718 L428,723 H417 Z" fill="#cbcbcb"/>
<text class="lg" x="465" y="705">Pseudogene</text>
<text class="lg" x="465" y="718">Incomplete gene fragment</text>
<path d="M578,696 H590 L594,700.5 L590,705 H578 Z" fill="url(#hatch)"/>
<rect x="579" y="712" width="13" height="10" fill="#a8a8a8" stroke="#999" stroke-width=".6"/>
<text class="lg" x="627" y="705">Dashed lines connect</text>
<text class="lg" x="627" y="716">homologous genes</text>
<path d="M740,703 V712" stroke="#e58a8a" stroke-width=".8"/>
<use href="#mL" x="739" y="697" class="rd"/><text class="lt" x="741" y="699.4">C</text>
<use href="#mL" x="739" y="718" class="rd"/><text class="lt" x="741" y="720.4">C</text>
<text class="lg" x="794" y="704">Conserved genes flanking</text>
<text class="lg" x="794" y="716">MSP3 arrays</text>
<use href="#fR" x="915" y="693.5" class="tl"/>
<use href="#fR" x="915" y="708.5" class="fp"/>
<use href="#fR" x="915" y="723" class="fo"/>
</g>
</svg>
